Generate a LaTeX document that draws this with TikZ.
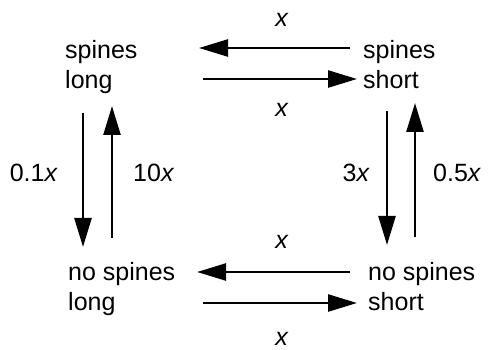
\documentclass[tikz,border=0pt]{standalone}
\usepackage{fontspec}
\setmainfont{Liberation Sans}
\usetikzlibrary{arrows.meta}
\tikzset{
  state/.style={anchor=base west, inner sep=0pt, align=left, font=\fontsize{25}{30.5}\selectfont},
  lbl/.style={inner sep=0pt, font=\fontsize{25}{30}\selectfont},
  arr/.style={line width=2.5pt, -{Triangle[length=29pt,width=17pt]}},
}
\begin{document}
\begin{tikzpicture}[x=1pt,y=-1pt]
\useasboundingbox (0,0) rectangle (488,350);
\node[state] (sl) at (65,89) {spines\\long};
\node[state] (ss) at (363,89) {spines\\short};
\node[state] (nl) at (68,311) {no spines\\long};
\node[state] (ns) at (368,311) {no spines\\short};
% horizontal
\draw[arr] ([shift={(-13,-41)}]ss.base west) -- ([shift={(134,-41)}]sl.base west);
\draw[arr] ([shift={(138,-10)}]sl.base west) -- ([shift={(-6,-10)}]ss.base west);
\draw[arr] ([shift={(-18,-39)}]ns.base west) -- ([shift={(129,-39)}]nl.base west);
\draw[arr] ([shift={(135,-8)}]nl.base west) -- ([shift={(-11,-8)}]ns.base west);
% vertical
\draw[arr] ([shift={(18,24)}]sl.base west) -- ([shift={(15,-64)}]nl.base west);
\draw[arr] ([shift={(44,-73)}]nl.base west) -- ([shift={(47,17)}]sl.base west);
\draw[arr] ([shift={(24,22)}]ss.base west) -- ([shift={(19,-66)}]ns.base west);
\draw[arr] ([shift={(47,-74)}]ns.base west) -- ([shift={(52,14)}]ss.base west);
% labels
\node[lbl, anchor=base] (x1) at (282,27) {\textit{x}};
\node[lbl, anchor=base] (x2) at (282,117) {\textit{x}};
\node[lbl, anchor=base] (x3) at (282,249) {\textit{x}};
\node[lbl, anchor=base] (x4) at (282,345) {\textit{x}};
\node[lbl, anchor=base east] (r1) at (58,182) {0.1\textit{x}};
\node[lbl, anchor=base west] (r2) at (133,182) {10\textit{x}};
\node[lbl, anchor=base east] (r3) at (370,182) {3\textit{x}};
\node[lbl, anchor=base west] (r4) at (433,182) {0.5\textit{x}};
\end{tikzpicture}
\end{document}
